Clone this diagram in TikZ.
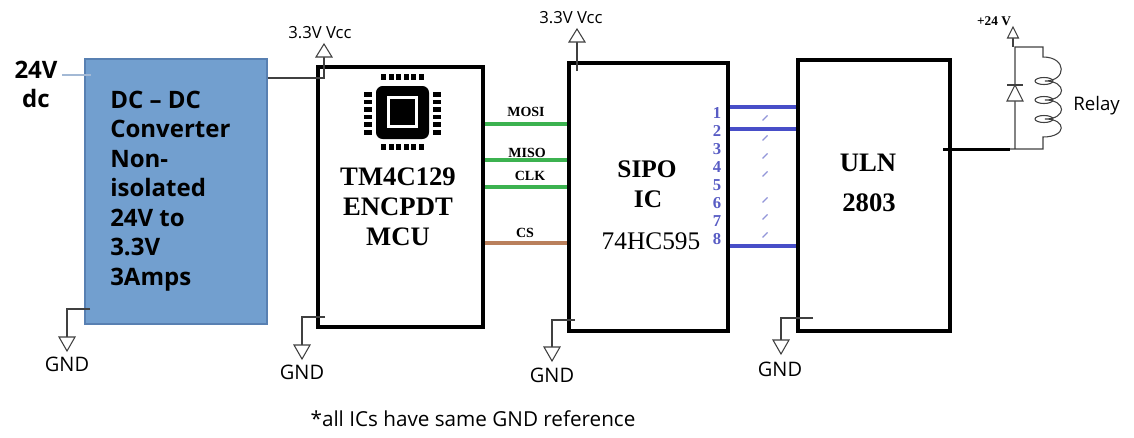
\documentclass[tikz,border=0pt]{standalone}
\usepackage{fontspec}
\setmainfont{Liberation Serif}
\newfontfamily\osans{Open Sans}
\usetikzlibrary{calc}
\definecolor{dcblue}{RGB}{114,159,207}
\definecolor{dcedge}{RGB}{88,128,178}
\definecolor{sigreen}{RGB}{60,178,80}
\definecolor{sigbrown}{RGB}{186,128,92}
\definecolor{sigblue}{RGB}{72,78,200}
\definecolor{pinblue}{RGB}{88,92,196}
\definecolor{wirec}{RGB}{64,64,64}
\begin{document}
\begin{tikzpicture}[x=0.75pt,y=-0.75pt,
  lbl/.style={inner sep=0, anchor=base},
  icbox/.style={draw=black, line width=3pt, inner sep=0},
  dcbox/.style={draw=dcedge, fill=dcblue, line width=0.8pt, inner sep=0},
  wire/.style={draw=wirec, line width=0.8pt},
  sig/.style={line width=3pt},
  sans/.style={font=\osans\fontsize{#1}{#1}\selectfont},
  sansb/.style={font=\osans\bfseries\fontsize{#1}{#1}\selectfont},
  serb/.style={font=\bfseries\fontsize{#1}{#1}\selectfont},
  serr/.style={font=\fontsize{#1}{#1}\selectfont},
  vccsym/.pic={\draw[wire, fill=white] (-8,0) -- (8,0) -- (0,-13) -- cycle;},
  vccsmall/.pic={\draw[wire, fill=white] (-5.5,0) -- (5.5,0) -- (0,-11) -- cycle;},
  gndsym/.pic={\draw[wire, fill=white] (-8,0) -- (8,0) -- (0,14) -- cycle;}
]
\useasboundingbox (0,0) rectangle (1134,437);

% ---------- boxes ----------
\node[dcbox, minimum width=136.5pt, minimum height=198.75pt] (dc) at (176,191.5) {};
\node[icbox, minimum width=123.75pt, minimum height=195pt] (mcu) at (400.5,197) {};
\node[icbox, minimum width=119.25pt, minimum height=201pt] (sipo) at (648.5,197) {};
\node[icbox, minimum width=114pt, minimum height=203.25pt] (uln) at (874,195.5) {};

% ---------- DC converter ----------
\node[lbl, sansb=18] (v24) at (36,78) {24V};
\node[lbl, sansb=18] (vdc) at (36,107) {dc};
\coordinate (in24) at (62,75);
\draw[draw=dcedge!55, line width=0.8pt] (in24) -- ($(dc.west |- in24)+(7,0)$);
\foreach \t [count=\i] in {DC – DC,Converter,Non-,isolated,24V to,3.3V,3Amps}
  \node[lbl, anchor=base west, sansb=18] (dcl\i) at (110,{108+29.5*(\i-1)}) {\t};

% ---------- MCU ----------
\foreach \t [count=\i] in {TM4C129,ENCPDT,MCU}
  \node[lbl, serb=20] (mcul\i) at (398,{185+30*(\i-1)}) {\t};
% chip icon
\fill[black, rounded corners=5pt] (376,86) rectangle (429,139);
\fill[white] (387,96) rectangle (418,128);
\fill[black] (390,99) rectangle (415,125);
\foreach \k in {0,...,5}{
  \fill[black] ({381+7.6*\k},74) rectangle ({386+7.6*\k},80);
  \fill[black] ({381+7.6*\k},144) rectangle ({386+7.6*\k},150);
  \fill[black] (364,{92+7.6*\k}) rectangle (372,{96.5+7.6*\k});
  \fill[black] (433,{92+7.6*\k}) rectangle (441,{96.5+7.6*\k});
}

% ---------- SIPO ----------
\node[lbl, serb=19] (sipo1) at (647,177) {SIPO};
\node[lbl, serb=19] (sipo2) at (648,207) {IC};
\node[lbl, serr=19] (sipo3) at (651,249) {74HC595};

% ---------- ULN ----------
\node[lbl, serb=20] (uln1) at (868,171) {ULN};
\node[lbl, serb=20] (uln2) at (869,211) {2803};

% ---------- power: Vcc ----------
\coordinate (mcuv) at (324,57);
\draw[wire] (dc.east |- 0,78) -- (mcuv |- 0,78) -- (mcuv);
\pic at (mcuv) {vccsym};
\node[lbl, sans=12.5] (mcuvl) at (320,38) {3.3V Vcc};

\coordinate (sipov) at (577,42);
\draw[wire] (577,71) -- (sipov);
\pic at (sipov) {vccsym};
\node[lbl, sans=12.5] (sipovl) at (571,23) {3.3V Vcc};

% ---------- grounds ----------
\coordinate (g1) at (67,337);
\draw[wire] (90,309) -- (g1 |- 0,309) -- (g1);
\pic at (g1) {gndsym};
\node[lbl, sans=15] (g1l) at (67,371) {GND};

\coordinate (g2) at (302,345);
\draw[wire] (325,317) -- (g2 |- 0,317) -- (g2);
\pic at (g2) {gndsym};
\node[lbl, sans=15] (g2l) at (302,379) {GND};

\coordinate (g3) at (552,347);
\draw[wire] (575,320) -- (g3 |- 0,320) -- (g3);
\pic at (g3) {gndsym};
\node[lbl, sans=15] (g3l) at (552,382) {GND};

\coordinate (g4) at (781,340);
\draw[wire] (813,318) -- (g4 |- 0,318) -- (g4);
\pic at (g4) {gndsym};
\node[lbl, sans=15] (g4l) at (780,376) {GND};

% ---------- SPI signals ----------
\draw[sig, sigreen] (mcu.east |- 0,124) -- (sipo.west |- 0,124);
\draw[sig, sigreen] (mcu.east |- 0,160) -- (sipo.west |- 0,160);
\draw[sig, sigreen] (mcu.east |- 0,187) -- (sipo.west |- 0,187);
\draw[sig, sigbrown] (mcu.east |- 0,243) -- (sipo.west |- 0,243);
\node[lbl, serb=10.5] (mosi) at (526,116) {MOSI};
\node[lbl, serb=10.5] (miso) at (527,157) {MISO};
\node[lbl, serb=10.5] (clk) at (530,180) {CLK};
\node[lbl, serb=10.5] (cs) at (525,237) {CS};

% ---------- parallel outputs ----------
\draw[sig, sigblue] (sipo.east |- 0,107) -- (uln.west |- 0,107);
\draw[sig, sigblue] (sipo.east |- 0,129) -- (uln.west |- 0,129);
\draw[sig, sigblue] (sipo.east |- 0,246) -- (uln.west |- 0,246);
\foreach \i in {1,...,8}
  \node[lbl, pinblue, serb=12.5] (p\i) at (717,{118+18.1*(\i-1)}) {\i};
\foreach \y in {118,138,156,174,200,217,235}
  \draw[pinblue!65, line width=1pt] (762.5,\y+2.5) -- (767.5,\y-2.5);

% ---------- relay ----------
\coordinate (rl) at (1015,149);
\coordinate (rtop) at (1015,47);
\coordinate (ctop) at (1043,47);
\coordinate (cbot) at (1043,149);
\coordinate (p24) at (1013,38);
\draw[line width=2.25pt] ($(uln.east |- rl)+(-9,0)$) -- (1010,149);
\draw[wire] (1010,149) -- (cbot) -- (1043,137)
  .. controls (1067,137) and (1067,119) .. (1045,119)
  .. controls (1067,119) and (1067,100) .. (1045,100)
  .. controls (1067,100) and (1067,81) .. (1045,81)
  .. controls (1067,81) and (1067,57) .. (1043,57)
  -- (ctop) -- (rtop) -- (rl);
\foreach \y in {81,100,119}
  \draw[wire] (1044,\y) ellipse [x radius=9, y radius=3.5];
\draw[wire] (1013,47) -- (p24);
\pic at (p24) {vccsmall};
\draw[wire, fill=white] (1007,101) -- (1023,101) -- (1015,85) -- cycle;
\draw[wire] (1007,85) -- (1023,85);
\node[lbl, serb=10] (l24) at (994,25) {+24 V};
\node[lbl, anchor=base west, sans=14] (relay) at (1073,110) {Relay};

% ---------- note ----------
\node[lbl, sans=15.5] (note) at (473,426) {*all ICs have same GND reference};
\end{tikzpicture}
\end{document}
